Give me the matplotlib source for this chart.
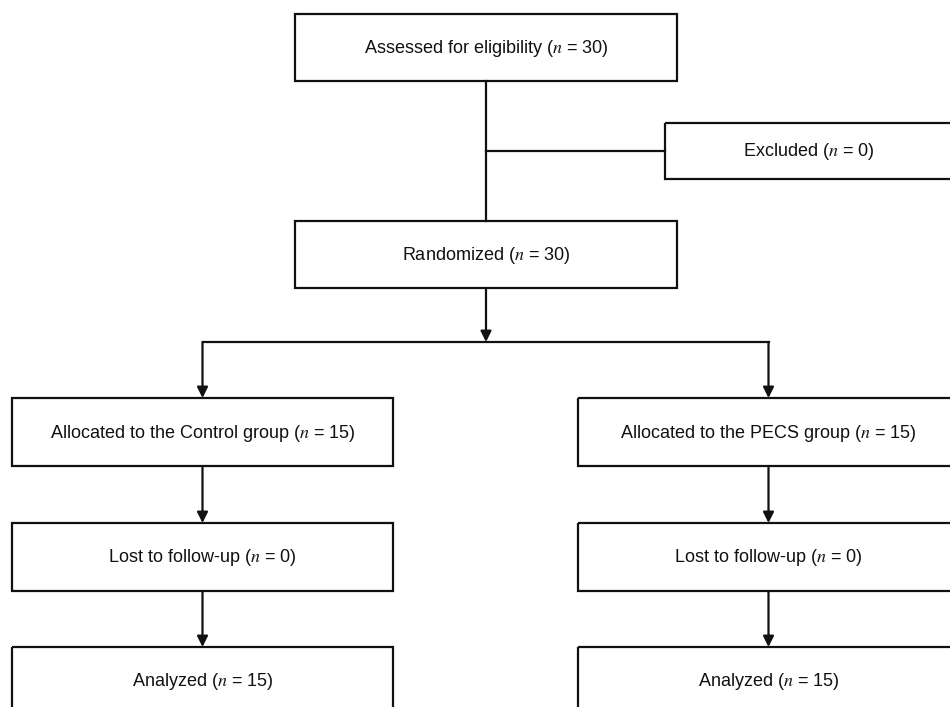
import matplotlib.pyplot as plt
from matplotlib.patches import Rectangle

plt.rcParams['font.family'] = ['Liberation Sans', 'DejaVu Sans']
plt.rcParams['mathtext.fontset'] = 'stix'

# stages of the flow diagram and their counts
stages = ['Assessed for eligibility', 'Excluded', 'Randomized',
          'Allocated to the Control group', 'Lost to follow-up', 'Analyzed',
          'Allocated to the PECS group', 'Lost to follow-up', 'Analyzed']
counts = [30, 0, 30, 15, 0, 15, 15, 0, 15]

# box layout in pixels: (left, top, width, height)
boxes = [(295, 14, 382, 67), (665, 123, 288, 56), (295, 221, 382, 67),
         (12, 398, 381, 68), (12, 523, 381, 68), (12, 647, 381, 68),
         (578, 398, 381, 68), (578, 523, 381, 68), (578, 647, 381, 68)]

W, H = 950, 707
fig = plt.figure(figsize=(W / 100, H / 100), dpi=100)
ax = fig.add_axes([0, 0, 1, 1])
ax.set_xlim(0, W)
ax.set_ylim(H, 0)
ax.axis('off')

lw = 1.6
col = '#111111'

for (x, y, w, h), name, n in zip(boxes, stages, counts):
    ax.add_patch(Rectangle((x, y), w, h, fill=False, lw=lw, ec=col, clip_on=False))
    ax.text(x + w / 2, y + h / 2 + 1, name + ' ($n$ = %d)' % n,
            ha='center', va='center', fontsize=13, color='#111111')


def cx(i):
    return boxes[i][0] + boxes[i][2] / 2


def top(i):
    return boxes[i][1]


def bottom(i):
    return boxes[i][1] + boxes[i][3]


def arrow(x0, y0, x1, y1):
    ax.annotate('', xy=(x1, y1), xytext=(x0, y0),
                arrowprops=dict(arrowstyle='-|>', color=col, lw=lw,
                                mutation_scale=16, shrinkA=0, shrinkB=0))


# assessed -> randomized with side branch to excluded
ax.plot([cx(0), cx(0)], [bottom(0), top(2)], color=col, lw=lw)
ax.plot([cx(0), boxes[1][0]], [151, 151], color=col, lw=lw)

# randomized -> split
ysplit = 342
arrow(cx(2), bottom(2), cx(2), ysplit)
ax.plot([cx(3), cx(6)], [ysplit, ysplit], color=col, lw=lw)
for i in (3, 6):
    arrow(cx(i), ysplit, cx(i), top(i))
    arrow(cx(i), bottom(i), cx(i), top(i + 1))
    arrow(cx(i + 1), bottom(i + 1), cx(i + 1), top(i + 2))

fig.savefig('out.png', dpi=100)
